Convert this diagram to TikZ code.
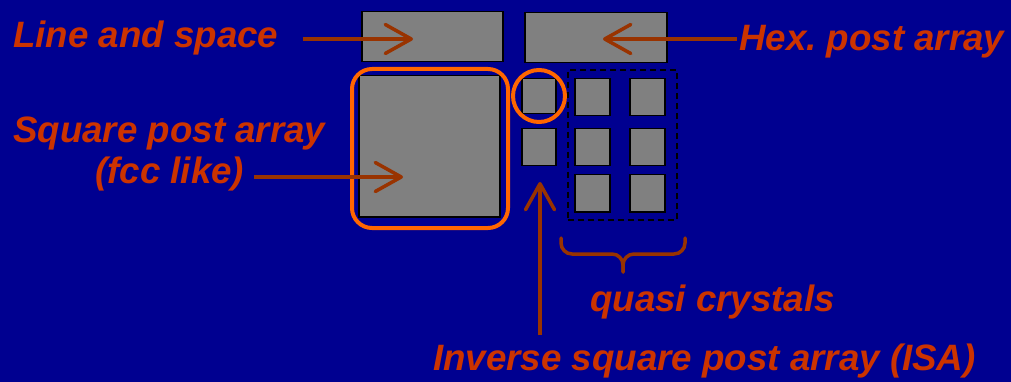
\documentclass[tikz,border=0pt]{standalone}
\usepackage{fontspec}
\setmainfont{Liberation Sans}
\usetikzlibrary{arrows.meta}
\definecolor{bg}{RGB}{0,0,144}
\definecolor{txt}{RGB}{204,51,0}
\definecolor{arrc}{RGB}{153,51,0}
\definecolor{ring}{RGB}{255,102,0}
\definecolor{post}{RGB}{128,128,128}
\frenchspacing
\begin{document}
\begin{tikzpicture}[x=1pt,y=-1pt,
  lbl/.style={text=txt,font=\fontsize{36.7}{44}\selectfont\bfseries\itshape,inner sep=0pt,anchor=base west},
  postbox/.style={fill=post,draw=black,line width=1.5pt,inner sep=0pt,anchor=north west},
  arr/.style={draw=arrc,line width=3.5pt,-{Straight Barb[length=26pt,width=29pt,round]}},
  ringline/.style={draw=ring,line width=4pt},
  bracestyle/.style={draw=arrc,line width=3.5pt,line cap=round,rounded corners=11pt}]
\fill[bg] (0,0) rectangle (1011,382);
\useasboundingbox (0,0) rectangle (1011,382);
% boxes
\node[postbox,minimum width=141pt,minimum height=50pt] (lsbox) at (361,11) {};
\node[postbox,minimum width=142pt,minimum height=50pt] (hexbox) at (524,12) {};
\node[postbox,minimum width=141pt,minimum height=141pt] (sqbox) at (358,75) {};
\node[postbox,minimum width=34pt,minimum height=35pt] (isa1) at (521,78) {};
\node[postbox,minimum width=34pt,minimum height=37pt] (isa2) at (521,128) {};
\foreach \c/\x in {1/574,2/629}{
  \foreach \r/\y in {1/78,2/128,3/174}{
    \node[postbox,minimum width=35pt,minimum height=37pt] (q\c\r) at (\x,\y) {};
  }
}
\node[draw=black,line width=2pt,dash pattern=on 6pt off 4pt,inner sep=0pt,anchor=north west,minimum width=109pt,minimum height=150pt] (qframe) at (566.5,69) {};
% orange highlights
\node[ringline,rounded corners=20pt,inner sep=0pt,anchor=north west,minimum width=156pt,minimum height=159pt] (sqring) at (350,67) {};
\node[ringline,circle,inner sep=0pt,minimum size=52pt] (isaring) at (539,96) {};
% labels
\node[lbl] (ls) at (13,48) {Line and space};
\node[lbl] (sq) at (13,143) {Square post array};
\node[lbl] (fcc) at (95,184) {(fcc like)};
\node[lbl] (hex) at (739,51) {Hex.\ post array};
\node[lbl] (qc) at (590,311) {quasi crystals};
\node[lbl] (isa) at (433,370) {Inverse square post array (ISA)};
% arrow tips
\coordinate (lstip) at (413,39);
\coordinate (fcctip) at (403,177);
\coordinate (hextip) at (603,39);
\coordinate (isatip) at (540,182);
\draw[arr,shorten <=24pt] (ls.east |- lstip) -- (lstip);
\draw[arr,shorten <=10pt] (fcc.east |- fcctip) -- (fcctip);
\draw[arr,shorten <=2pt] (hex.west |- hextip) -- (hextip);
\draw[arr,shorten <=8pt] (isatip |- isa.north) -- (isatip);
% brace
\coordinate (brL) at (561,238);
\coordinate (brR) at (685,238);
\coordinate (brM) at (623,254);
\coordinate (brT) at (623,272);
\draw[bracestyle] (brL) -- (brL |- brM) -- (brM) -- (brT);
\draw[bracestyle] (brR) -- (brR |- brM) -- (brM) -- (brT);
\end{tikzpicture}
\end{document}
